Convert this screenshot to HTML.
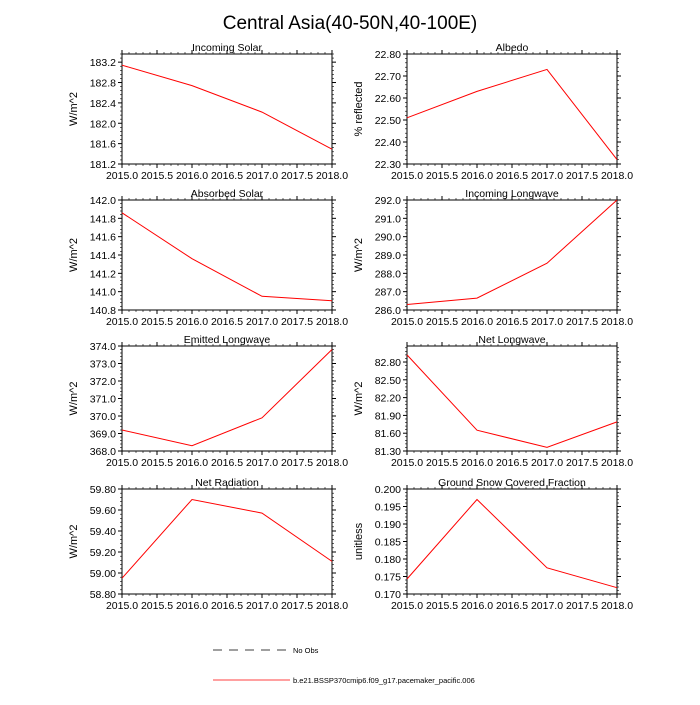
<!DOCTYPE html>
<html><head><meta charset="utf-8"><style>
body{margin:0;background:#fff}
svg text{font-family:"Liberation Sans",Arial,sans-serif;fill:#000}
</style></head><body>
<svg id="c" width="700" height="700" viewBox="0 0 700 700">
<text x="350" y="29" font-size="19" text-anchor="middle">Central Asia(40-50N,40-100E)</text>
<g>
<line x1="213" y1="650" x2="290" y2="650" stroke="#000" stroke-width="0.8" stroke-dasharray="9,7"/>
<text x="293" y="653" font-size="7.5">No Obs</text>
<line x1="213" y1="680" x2="290" y2="680" stroke="#f00" stroke-width="0.8"/>
<text x="293" y="683" font-size="7.5">b.e21.BSSP370cmip6.f09_g17.pacemaker_pacific.006</text>
</g>
</svg>
<script>
const years=[2015,2016,2017,2018];
const xTicks=[2015,2015.5,2016,2016.5,2017,2017.5,2018];
const titles=["Incoming Solar","Albedo","Absorbed Solar","Incoming Longwave","Emitted Longwave","Net Longwave","Net Radiation","Ground Snow Covered Fraction"];
const yTitles=["W/m^2","% reflected","W/m^2","W/m^2","W/m^2","W/m^2","W/m^2","unitless"];
const vIncSolar=[183.14,182.74,182.22,181.49];
const vAlbedo=[22.51,22.63,22.73,22.32];
const vAbsSolar=[141.86,141.36,140.95,140.90];
const vIncLW=[286.3,286.65,288.55,292.0];
const vEmitLW=[369.2,368.3,369.9,373.8];
const vNetLW=[82.92,81.65,81.36,81.79];
const vNetRad=[58.95,59.70,59.57,59.11];
const vSnow=[0.1743,0.1970,0.1775,0.1718];
const yMin=[181.2,22.3,140.8,286,368,81.3,58.8,0.170];
const yMax=[183.36,22.8,142.0,292,374,83.07,59.8,0.200];
const yStep=[0.4,0.1,0.2,1,1,0.3,0.2,0.005];
const yDec=[1,2,1,1,1,2,2,3];
const series=[vIncSolar,vAlbedo,vAbsSolar,vIncLW,vEmitLW,vNetLW,vNetRad,vSnow];
const NS="http://www.w3.org/2000/svg";
const svg=document.getElementById('c');
const rowTop=[54,200,346,489],rowH=[110,110,105,105];
const colL=[122,407],W=210;
function mk(t,a,p){const e=document.createElementNS(NS,t);for(const k in a)e.setAttribute(k,a[k]);(p||svg).appendChild(e);return e;}
for(let i=0;i<8;i++){
  const r=Math.floor(i/2),c=i%2;
  const L=colL[c],T=rowTop[r],H=rowH[r],B=T+H,R=L+W;
  const g=mk('g',{});
  
  
  const xs=v=>L+(v-2015)/3*W;
  const ys=v=>B-(v-yMin[i])/(yMax[i]-yMin[i])*H;
  const fr=mk('rect',{x:L,y:T,width:W,height:H,fill:'none',stroke:'#000','stroke-width':1},g);
  
  
  const tt=mk('text',{x:L+W/2,y:T-3,'font-size':10.5,'text-anchor':'middle'},g);tt.textContent=titles[i];
  
  
  const yt=mk('text',{x:0,y:0,'font-size':11,'text-anchor':'middle',transform:`translate(${L-45},${T+H/2}) rotate(-90)`},g);yt.textContent=yTitles[i];
  
  
  xTicks.forEach(v=>{const x=xs(v);
    mk('line',{x1:x,y1:B,x2:x,y2:B+4,stroke:'#000'},g);
    mk('line',{x1:x,y1:T,x2:x,y2:T-4,stroke:'#000'},g);
    const tl=mk('text',{x:x,y:B+15,'font-size':10.5,'text-anchor':'middle'},g);tl.textContent=v.toFixed(1);
    
    
  });
  for(let v=2015;v<=2018.001;v+=0.1){const x=xs(v);
    mk('line',{x1:x,y1:B,x2:x,y2:B+2,stroke:'#000','stroke-width':0.6},g);
    mk('line',{x1:x,y1:T,x2:x,y2:T-2,stroke:'#000','stroke-width':0.6},g);}
  const n=Math.floor((yMax[i]-yMin[i])/yStep[i]+1e-6);
  for(let k=0;k<=n;k++){const v=yMin[i]+k*yStep[i],y=ys(v);
    mk('line',{x1:L,y1:y,x2:L-4,y2:y,stroke:'#000'},g);
    mk('line',{x1:R,y1:y,x2:R+4,y2:y,stroke:'#000'},g);
    const tl=mk('text',{x:L-6,y:y+4,'font-size':10.5,'text-anchor':'end'},g);tl.textContent=v.toFixed(yDec[i]);
    
    
    for(let m=1;m<5;m++){const vm=v+yStep[i]*m/5;if(vm>yMax[i]+1e-9)break;const ym=ys(vm);
      mk('line',{x1:L,y1:ym,x2:L-2,y2:ym,stroke:'#000','stroke-width':0.6},g);
      mk('line',{x1:R,y1:ym,x2:R+2,y2:ym,stroke:'#000','stroke-width':0.6},g);}
  }
  const d=years.map((yr,j)=>(j?'L':'M')+xs(yr).toFixed(1)+' '+ys(series[i][j]).toFixed(1)).join(' ');
  const ln=mk('path',{d:d,fill:'none',stroke:'#f00','stroke-width':1},g);
  
  
}
</script>
</body></html>
